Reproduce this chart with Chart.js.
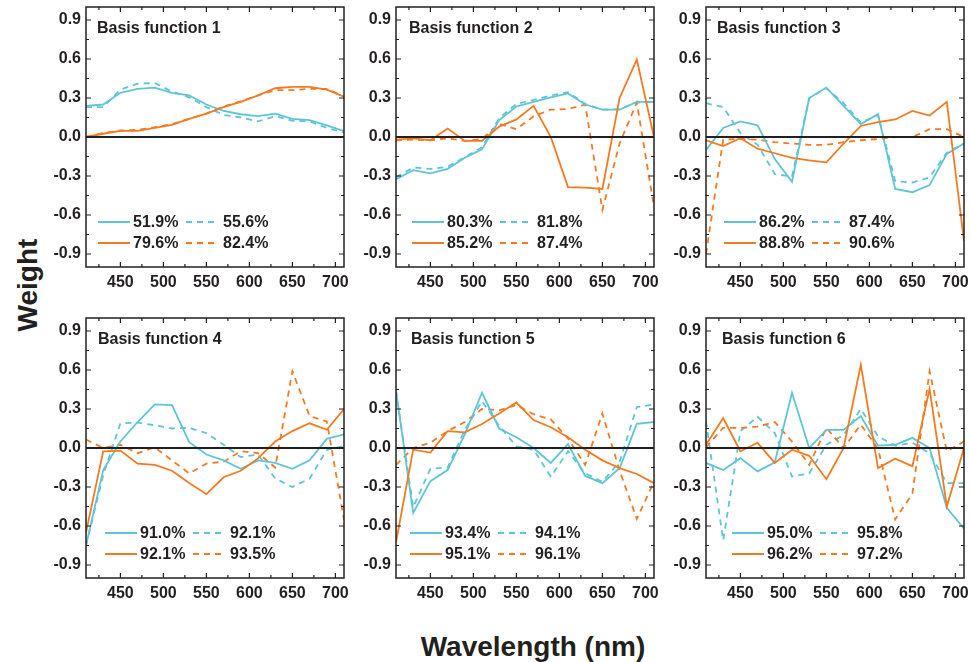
<!DOCTYPE html>
<html>
<head>
<meta charset="utf-8">
<script src="https://cdn.jsdelivr.net/npm/chart.js@4"></script>
<style>
  body { margin: 0; background: #fff; width: 970px; height: 662px; position: relative; overflow: hidden; }
  canvas.panel { position: absolute; }
  .axis-title { position: absolute; font: bold 28px "Liberation Sans", Arial, sans-serif; color: #231f20; white-space: nowrap; }
  #yTitle { left: 28px; top: 285px; transform: translate(-50%, -50%) rotate(-90deg); }
  #xTitle { left: 533px; top: 647px; transform: translate(-50%, -50%); }
</style>
</head>
<body>
<div id="yTitle" class="axis-title">Weight</div>
<div id="xTitle" class="axis-title">Wavelength (nm)</div>

<script>
const wavelengths = [410, 430, 450, 470, 490, 510, 530, 550, 570, 590, 610, 630, 650, 670, 690, 710];
const xTicks = [450, 500, 550, 600, 650, 700];
const xMinorTicks = [425, 475, 525, 575, 625, 675];
const yTicks = [-0.9, -0.6, -0.3, 0.0, 0.3, 0.6, 0.9];
const yMinorTicks = [-0.75, -0.45, -0.15, 0.15, 0.45, 0.75];

// basis function 1
const bf1Cyan = [0.24, 0.25, 0.34, 0.37, 0.38, 0.34, 0.32, 0.25, 0.20, 0.175, 0.16, 0.18, 0.14, 0.13, 0.09, 0.045];
const bf1CyanDash = [0.23, 0.23, 0.365, 0.41, 0.415, 0.35, 0.305, 0.23, 0.17, 0.15, 0.12, 0.16, 0.125, 0.12, 0.07, 0.035];
const bf1Orange = [0.0, 0.025, 0.047, 0.047, 0.07, 0.094, 0.14, 0.18, 0.23, 0.27, 0.32, 0.375, 0.385, 0.385, 0.365, 0.31];
const bf1OrangeDash = [0.0, 0.03, 0.05, 0.055, 0.075, 0.1, 0.14, 0.18, 0.235, 0.275, 0.32, 0.36, 0.36, 0.37, 0.37, 0.31];

// basis function 2
const bf2Cyan = [-0.325, -0.255, -0.28, -0.245, -0.16, -0.095, 0.13, 0.235, 0.27, 0.305, 0.335, 0.25, 0.21, 0.21, 0.27, 0.27];
const bf2CyanDash = [-0.31, -0.235, -0.245, -0.23, -0.155, -0.08, 0.145, 0.255, 0.285, 0.32, 0.345, 0.255, 0.21, 0.215, 0.265, 0.27];
const bf2Orange = [-0.02, -0.01, -0.025, 0.065, -0.03, -0.03, 0.08, 0.135, 0.24, 0.0, -0.385, -0.39, -0.4, 0.3, 0.595, 0.0];
const bf2OrangeDash = [-0.025, -0.02, -0.025, -0.01, -0.03, -0.015, 0.1, 0.06, 0.16, 0.21, 0.215, 0.25, -0.56, -0.05, 0.265, -0.54];

// basis function 3
const bf3Cyan = [-0.1, 0.07, 0.12, 0.09, -0.17, -0.345, 0.3, 0.38, 0.24, 0.1, 0.175, -0.4, -0.425, -0.37, -0.13, -0.05];
const bf3CyanDash = [0.26, 0.23, 0.03, -0.06, -0.285, -0.305, 0.3, 0.375, 0.26, 0.11, 0.17, -0.34, -0.35, -0.31, -0.12, -0.05];
const bf3Orange = [-0.025, -0.07, -0.01, -0.09, -0.125, -0.16, -0.18, -0.195, -0.05, 0.085, 0.115, 0.135, 0.2, 0.165, 0.27, -0.8];
const bf3OrangeDash = [-0.9, -0.02, -0.015, -0.02, -0.04, -0.05, -0.06, -0.06, -0.04, -0.025, -0.015, 0.0, 0.0, 0.06, 0.06, 0.0];

// basis function 4
const bf4Cyan = [-0.75, -0.17, 0.05, 0.2, 0.335, 0.33, 0.045, -0.05, -0.095, -0.16, -0.095, -0.115, -0.16, -0.095, 0.07, 0.105];
const bf4CyanDash = [-0.75, -0.21, 0.19, 0.195, 0.175, 0.15, 0.155, 0.115, 0.025, -0.07, -0.05, -0.235, -0.3, -0.235, -0.015, 0.015];
const bf4Orange = [-0.65, -0.025, -0.02, -0.12, -0.13, -0.175, -0.27, -0.355, -0.225, -0.175, -0.08, 0.05, 0.13, 0.19, 0.14, 0.3];
const bf4OrangeDash = [0.065, 0.0, 0.025, -0.04, 0.005, -0.095, -0.195, -0.12, -0.105, -0.025, -0.04, -0.15, 0.59, 0.245, 0.205, -0.55];

// basis function 5
const bf5Cyan = [0.44, -0.5, -0.255, -0.17, 0.105, 0.425, 0.15, 0.083, 0.0, -0.115, 0.03, -0.215, -0.27, -0.155, 0.185, 0.2];
const bf5CyanDash = [0.44, -0.455, -0.16, -0.15, 0.14, 0.36, 0.17, 0.013, -0.013, -0.22, -0.025, -0.195, -0.26, -0.105, 0.315, 0.335];
const bf5Orange = [-0.725, -0.013, -0.035, 0.13, 0.12, 0.185, 0.265, 0.35, 0.215, 0.16, 0.083, -0.013, -0.095, -0.155, -0.2, -0.27];
const bf5OrangeDash = [-0.13, 0.0, 0.04, 0.13, 0.2, 0.3, 0.29, 0.33, 0.26, 0.22, 0.073, -0.13, 0.265, -0.175, -0.545, -0.26];

// basis function 6
const bf6Cyan = [-0.115, -0.17, -0.078, -0.18, -0.11, 0.425, 0.0, 0.14, 0.14, 0.245, 0.018, 0.025, 0.078, 0.0, -0.46, -0.62];
const bf6CyanDash = [0.205, -0.71, 0.13, 0.24, 0.115, -0.22, -0.195, 0.025, 0.1, 0.3, 0.09, 0.018, 0.04, -0.04, -0.27, -0.27];
const bf6Orange = [0.025, 0.23, -0.025, 0.04, -0.115, -0.013, -0.06, -0.24, 0.0, 0.64, -0.155, -0.083, -0.14, 0.455, -0.45, 0.0];
const bf6OrangeDash = [0.005, 0.155, 0.155, 0.165, 0.2, 0.05, -0.13, 0.155, 0.0, 0.18, -0.005, -0.55, -0.35, 0.59, -0.025, 0.05];

const panelTitles = ['Basis function 1', 'Basis function 2', 'Basis function 3', 'Basis function 4', 'Basis function 5', 'Basis function 6'];
const panelLabels = [
  ['51.9%', '55.6%', '79.6%', '82.4%'],
  ['80.3%', '81.8%', '85.2%', '87.4%'],
  ['86.2%', '87.4%', '88.8%', '90.6%'],
  ['91.0%', '92.1%', '92.1%', '93.5%'],
  ['93.4%', '94.1%', '95.1%', '96.1%'],
  ['95.0%', '95.8%', '96.2%', '97.2%'],
];
const panelSeries = [
  [bf1Cyan, bf1CyanDash, bf1Orange, bf1OrangeDash],
  [bf2Cyan, bf2CyanDash, bf2Orange, bf2OrangeDash],
  [bf3Cyan, bf3CyanDash, bf3Orange, bf3OrangeDash],
  [bf4Cyan, bf4CyanDash, bf4Orange, bf4OrangeDash],
  [bf5Cyan, bf5CyanDash, bf5Orange, bf5OrangeDash],
  [bf6Cyan, bf6CyanDash, bf6Orange, bf6OrangeDash],
];

const CYAN = '#5ec5d7';
const ORANGE = '#f47a20';
const INK = '#231f20';
const FONT_FAMILY = '"Liberation Sans", Arial, sans-serif';

// layout of the six plot areas
const colLeft = [86, 395.5, 705.5];
const rowTop = [7, 318];
const plotW = 258;
const plotH = 260;
const padL = 50, padR = 12, padT = 24, padB = 32;
const titleX = [11, 13, 11, 12, 15, 16];
const legendX = [12, 16, 18, 19, 14, 26];

// frame, inward ticks, zero line, title and legend
const panelDecor = {
  id: 'panelDecor',
  afterDatasetsDraw(chart) {
    const { ctx, chartArea: a, scales: { x, y } } = chart;
    const idx = chart.options.panelIndex;
    ctx.save();
    ctx.strokeStyle = INK;

    // zero line
    ctx.lineWidth = 2;
    const y0 = y.getPixelForValue(0);
    ctx.beginPath();
    ctx.moveTo(a.left, y0);
    ctx.lineTo(a.right, y0);
    ctx.stroke();

    // ticks
    ctx.lineWidth = 1.2;
    ctx.beginPath();
    const tickX = (vals, len) => vals.forEach(v => {
      const px = x.getPixelForValue(v);
      ctx.moveTo(px, a.bottom); ctx.lineTo(px, a.bottom - len);
      ctx.moveTo(px, a.top); ctx.lineTo(px, a.top + len);
    });
    const tickY = (vals, len) => vals.forEach(v => {
      const py = y.getPixelForValue(v);
      ctx.moveTo(a.left, py); ctx.lineTo(a.left + len, py);
      ctx.moveTo(a.right, py); ctx.lineTo(a.right - len, py);
    });
    tickX(xTicks, 5);
    tickX(xMinorTicks, 3);
    tickY(yTicks, 5);
    tickY(yMinorTicks, 3);
    ctx.stroke();

    // frame
    ctx.lineWidth = 1.5;
    ctx.strokeRect(a.left, a.top, a.right - a.left, a.bottom - a.top);

    // title
    ctx.fillStyle = INK;
    ctx.font = 'bold 16px ' + FONT_FAMILY;
    ctx.textBaseline = 'middle';
    ctx.textAlign = 'left';
    ctx.fillText(panelTitles[idx], a.left + titleX[idx], a.top + 22);

    // legend, two rows of two entries
    const ds = chart.data.datasets;
    const lx = a.left + legendX[idx];
    const rows = [a.bottom - 45, a.bottom - 24];
    ds.forEach((d, i) => {
      const row = rows[Math.floor(i / 2)];
      const sx = lx + (i % 2) * 88;
      ctx.strokeStyle = d.borderColor;
      ctx.lineWidth = 2;
      ctx.setLineDash(d.borderDash || []);
      ctx.beginPath();
      ctx.moveTo(sx, row);
      ctx.lineTo(sx + 32, row);
      ctx.stroke();
      ctx.setLineDash([]);
      ctx.fillStyle = INK;
      ctx.font = 'bold 16px ' + FONT_FAMILY;
      ctx.fillText(d.label, sx + (i % 2 ? 37 : 35), row + 1);
    });
    ctx.restore();
  },
};

function makePanel(idx) {
  const col = idx % 3;
  const row = Math.floor(idx / 3);
  const canvas = document.createElement('canvas');
  canvas.className = 'panel';
  const cw = padL + plotW + padR;
  const ch = padT + plotH + padB;
  canvas.width = cw;
  canvas.height = ch;
  canvas.style.width = cw + 'px';
  canvas.style.height = ch + 'px';
  canvas.style.left = (colLeft[col] - padL) + 'px';
  canvas.style.top = (rowTop[row] - padT) + 'px';
  document.body.appendChild(canvas);

  const series = panelSeries[idx];
  const labels = panelLabels[idx];
  const styles = [
    { color: CYAN, dash: [] },
    { color: CYAN, dash: [6, 5] },
    { color: ORANGE, dash: [] },
    { color: ORANGE, dash: [6, 5] },
  ];
  const datasets = series.map((vals, i) => ({
    label: labels[i],
    data: wavelengths.map((w, j) => ({ x: w, y: vals[j] })),
    borderColor: styles[i].color,
    borderDash: styles[i].dash,
    borderWidth: 1.8,
    pointRadius: 0,
    tension: 0,
    fill: false,
  }));
  // dashed first so solid lines sit on top
  const order = [1, 3, 0, 2];
  datasets.forEach((d, i) => { d.order = order[i]; });

  const tickFont = { family: FONT_FAMILY, size: 16, weight: 'bold' };

  return new Chart(canvas, {
    type: 'line',
    data: { datasets },
    options: {
      panelIndex: idx,
      responsive: false,
      animation: false,
      devicePixelRatio: 1,
      layout: { padding: { top: padT, right: padR, left: 0, bottom: 0 } },
      plugins: { legend: { display: false }, tooltip: { enabled: false } },
      scales: {
        x: {
          type: 'linear',
          min: 410,
          max: 710,
          grid: { display: false, drawTicks: false },
          border: { display: false },
          afterBuildTicks: s => { s.ticks = xTicks.map(v => ({ value: v })); },
          afterFit: s => { s.height = padB; },
          ticks: { font: tickFont, color: INK, padding: 6, maxRotation: 0, autoSkip: false, callback: v => String(v) },
        },
        y: {
          min: -1,
          max: 1,
          grid: { display: false, drawTicks: false },
          border: { display: false },
          afterBuildTicks: s => { s.ticks = yTicks.map(v => ({ value: v })); },
          afterFit: s => { s.width = padL; },
          ticks: { font: tickFont, color: INK, padding: 5, autoSkip: false, callback: v => Number(v).toFixed(1) },
        },
      },
    },
    plugins: [panelDecor],
  });
}

const charts = [0, 1, 2, 3, 4, 5].map(makePanel);
</script>
</body>
</html>
